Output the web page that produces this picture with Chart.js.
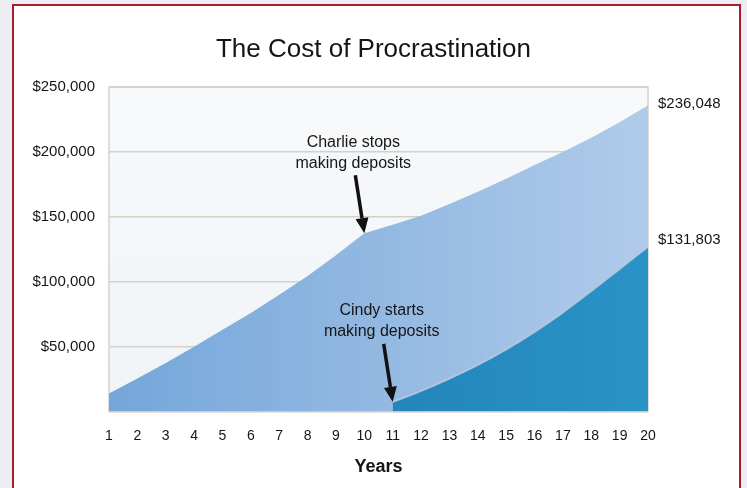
<!DOCTYPE html>
<html><head><meta charset="utf-8">
<script src="https://cdn.jsdelivr.net/npm/chart.js@4"></script>
<style>
html,body{margin:0;padding:0;background:#eceef1;width:747px;height:488px;overflow:hidden}
#frame{position:absolute;left:12px;top:4px;width:725px;height:500px;border:2px solid #ad1a2c;background:#fff}
#wrap{position:absolute;left:0;top:0;width:747px;height:488px}
</style></head><body>
<div id="frame"></div>
<div id="wrap"><canvas id="c" width="747" height="488"></canvas></div>
<script>
const years = ['1','2','3','4','5','6','7','8','9','10','11','12','13','14','15','16','17','18','19','20'];
const charlieBalance = [14000, 25500, 37500, 50000, 63000, 76000, 90000, 104500, 120500, 137500,
                        144000, 151000, 160000, 169500, 179500, 190000, 200000, 211000, 223000, 236048];
const cindyBalance = [null, null, null, null, null, null, null, null, null, null,
                      7500, 16000, 25500, 36000, 48000, 61500, 76500, 93000, 110000, 127000];
const yTickValues = [0, 50000, 100000, 150000, 200000, 250000];
const endLabels = ['$236,048', '$131,803'];
const endLabelValues = [236048, 131803];
const noteLines = [['Charlie stops', 'making deposits'], ['Cindy starts', 'making deposits']];
const noteYearIndex = [9, 10];

const FONT = "'Liberation Sans', Arial, Helvetica, sans-serif";
Chart.defaults.font.family = FONT;
Chart.defaults.color = '#151515';

function hGrad(chart, c0, c1, fallback) {
  const area = chart.chartArea;
  if (!area) return fallback;
  const g = chart.ctx.createLinearGradient(area.left, 0, area.right, 0);
  g.addColorStop(0, c0);
  g.addColorStop(1, c1);
  return g;
}

const plotBg = {
  id: 'plotBg',
  beforeDraw(chart) {
    const {ctx, chartArea: a} = chart;
    ctx.save();
    const g = ctx.createLinearGradient(0, a.top, 0, a.bottom);
    g.addColorStop(0, '#f7f9fb');
    g.addColorStop(1, '#f1f4f7');
    ctx.fillStyle = g;
    ctx.fillRect(a.left, a.top, a.right - a.left, a.bottom - a.top);
    ctx.restore();
  },
  beforeDatasetsDraw(chart) {
    const {ctx, chartArea: a} = chart;
    ctx.save();
    ctx.strokeStyle = '#d6d3d0';
    ctx.lineWidth = 1.5;
    ctx.strokeRect(a.left, a.top, a.right - a.left, a.bottom - a.top);
    ctx.restore();
  }
};

function arrow(c, x1, y1, x2, y2) {
  const a = Math.atan2(y2 - y1, x2 - x1), L = 15, W = 6.5;
  const bx = x2 - L * Math.cos(a), by = y2 - L * Math.sin(a);
  c.beginPath(); c.moveTo(x1, y1); c.lineTo(bx, by);
  c.lineWidth = 3.5; c.strokeStyle = '#111'; c.stroke();
  c.beginPath(); c.moveTo(x2, y2);
  c.lineTo(bx - W * Math.sin(a), by + W * Math.cos(a));
  c.lineTo(bx + W * Math.sin(a), by - W * Math.cos(a));
  c.closePath(); c.fillStyle = '#111'; c.fill();
}

const notes = {
  id: 'notes',
  afterDatasetsDraw(chart) {
    const {ctx, scales: {x, y}, chartArea: a} = chart;
    ctx.save();
    const series = [charlieBalance, cindyBalance];
    noteLines.forEach((lines, k) => {
      const idx = noteYearIndex[k];
      const tx = x.getPixelForValue(idx);
      const ty = y.getPixelForValue(series[k][idx]);
      arrow(ctx, tx - 9, ty - 58, tx, ty);
      ctx.font = '16px ' + FONT;
      ctx.fillStyle = '#151515';
      ctx.textAlign = 'center';
      ctx.textBaseline = 'middle';
      ctx.fillText(lines[0], tx - 11, ty - 91);
      ctx.fillText(lines[1], tx - 11, ty - 70);
    });
    ctx.font = '15px ' + FONT;
    ctx.textAlign = 'left';
    ctx.textBaseline = 'middle';
    ctx.fillStyle = '#151515';
    endLabels.forEach((t, k) => {
      ctx.fillText(t, a.right + 10, y.getPixelForValue(endLabelValues[k]) - 1);
    });
    ctx.restore();
  }
};

new Chart(document.getElementById('c'), {
  type: 'line',
  data: {
    labels: years,
    datasets: [
      {
        label: 'Cindy',
        data: cindyBalance,
        fill: 'origin',
        cubicInterpolationMode: 'monotone',
        pointRadius: 0,
        borderWidth: 2,
        borderColor: 'rgba(185,200,222,0.9)',
        backgroundColor: (c) => hGrad(c.chart, '#1a76b2', '#2a93c6', '#2286bd'),
        order: 0
      },
      {
        label: 'Charlie',
        data: charlieBalance,
        fill: 'origin',
        tension: 0,
        pointRadius: 0,
        borderWidth: 0,
        backgroundColor: (c) => hGrad(c.chart, '#74a6da', '#b1cbea', '#93b9e2'),
        order: 1
      }
    ]
  },
  options: {
    responsive: false,
    animation: false,
    events: [],
    layout: {padding: {left: 0, right: 0, top: 0, bottom: 6}},
    plugins: {
      legend: {display: false},
      tooltip: {enabled: false},
      title: {
        display: true,
        text: 'The Cost of Procrastination',
        color: '#151515',
        font: {size: 26, weight: 'normal'},
        padding: {top: 34, bottom: 22}
      }
    },
    scales: {
      x: {
        offset: false,
        grid: {display: false, drawTicks: false},
        border: {display: false},
        ticks: {font: {size: 14}, color: '#151515', padding: 16, maxRotation: 0, autoSkip: false},
        title: {display: true, text: 'Years', font: {size: 18, weight: 'bold'}, color: '#151515', padding: {top: -4, bottom: 4}}
      },
      y: {
        min: 0,
        max: 250000,
        afterBuildTicks(s) { s.ticks = yTickValues.map(v => ({value: v})); },
        afterFit(s) { s.width = 109; },
        grid: {color: '#dacfc6', lineWidth: 1.5, drawTicks: false},
        border: {display: false},
        ticks: {
          font: {size: 15},
          color: '#151515',
          padding: 14,
          callback: (v) => v === 0 ? '' : '$' + Number(v).toLocaleString('en-US')
        }
      },
      yRight: {
        position: 'right',
        min: 0,
        max: 250000,
        afterFit(s) { s.width = 99; },
        grid: {display: false, drawTicks: false},
        border: {display: false},
        ticks: {display: false}
      }
    }
  },
  plugins: [plotBg, notes]
});
</script>
</body></html>
